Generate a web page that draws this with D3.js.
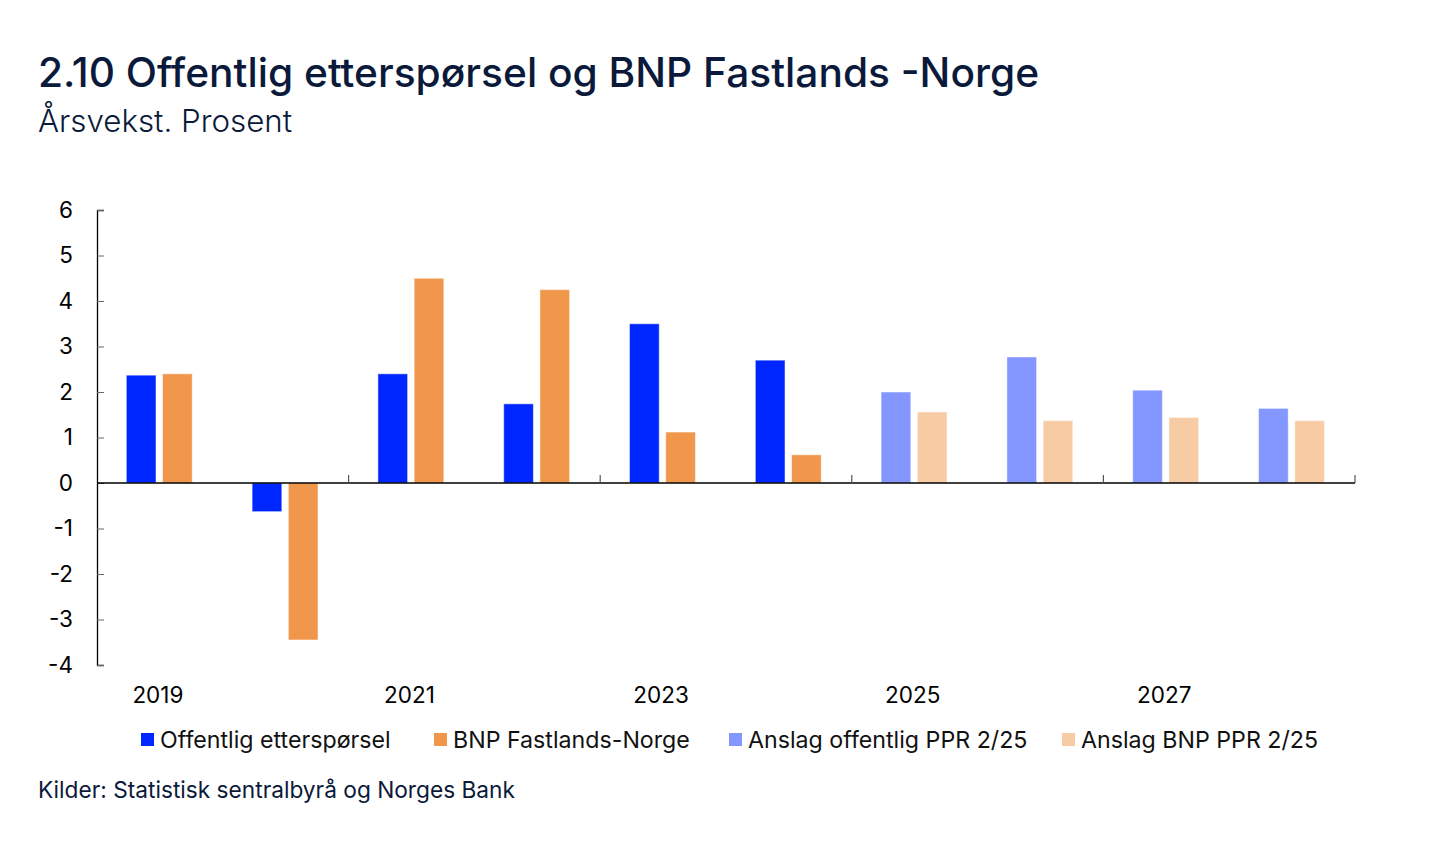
<!DOCTYPE html>
<html>
<head>
<meta charset="utf-8">
<script src="https://cdn.jsdelivr.net/npm/d3@7"></script>
<style>
  body { margin: 0; background: #fff; }
  text { font-family: Inter, "Noto Sans", sans-serif; }
</style>
</head>
<body>
<svg id="chart" width="1445" height="858"></svg>
<script>
// data
var years = ["2019", "2020", "2021", "2022", "2023", "2024", "2025", "2026", "2027", "2028"];
var offentlig = [2.37, -0.63, 2.4, 1.74, 3.5, 2.7, 2.0, 2.77, 2.04, 1.64];
var bnpFastland = [2.4, -3.45, 4.5, 4.25, 1.12, 0.62, 1.56, 1.37, 1.44, 1.37];
var firstForecast = "2025";
var yTicks = [-4, -3, -2, -1, 0, 1, 2, 3, 4, 5, 6];
var xLabels = ["2019", "2021", "2023", "2025", "2027"];
var legendNames = ["Offentlig etterspørsel", "BNP Fastlands-Norge", "Anslag offentlig PPR 2/25", "Anslag BNP PPR 2/25"];

var col = {
  blue: "#0026ff", orange: "#f0974b",
  lightBlue: "#8496ff", lightOrange: "#f7cba4",
  navy: "#0b1a3a"
};

var svg = d3.select("#chart");

svg.append("text").attr("x", 38).attr("y", 87)
  .attr("font-size", 40.7).attr("font-weight", 500).attr("fill", col.navy)
  .text("2.10 Offentlig etterspørsel og BNP Fastlands -Norge");
svg.append("text").attr("x", 38).attr("y", 132)
  .attr("font-size", 31.3).attr("font-weight", 300).attr("fill", col.navy)
  .text("Årsvekst. Prosent");

// plot box (don't call it "top", that's window.top)
var pL = 97, pR = 1355, pT = 210, pB = 665;

var x = d3.scaleBand().domain(years).range([pL, pR]);
var bw = x.bandwidth();
var x1 = d3.scaleBand().domain(["a", "b"]).range([bw * 0.233, bw * 0.757]).paddingInner(0.18);
var y = d3.scaleLinear().domain([-4, 6]).range([pB, pT]);

var rows = years.map(function(yr, i) {
  return { year: yr, a: offentlig[i], b: bnpFastland[i], fc: yr >= firstForecast };
});

function fillFor(d, k) {
  if (k == "a") return d.fc ? col.lightBlue : col.blue;
  return d.fc ? col.lightOrange : col.orange;
}

var g = svg.append("g");
["a", "b"].forEach(function(k) {
  g.selectAll(".bar-" + k).data(rows).enter().append("rect")
    .attr("x", function(d) { return x(d.year) + x1(k); })
    .attr("width", x1.bandwidth())
    .attr("y", function(d) { return y(Math.max(0, d[k])); })
    .attr("height", function(d) { return Math.abs(y(d[k]) - y(0)); })
    .attr("fill", function(d) { return fillFor(d, k); })
    .attr("stroke", "#fff").attr("stroke-opacity", 0.5).attr("stroke-width", 1);
});

// y axis, ticks pointing inwards
var yAxis = svg.append("g").attr("transform", "translate(" + pL + ",0)")
  .call(d3.axisLeft(y).tickValues(yTicks).tickSize(-7).tickPadding(24).tickFormat(d3.format("d")));
yAxis.select(".domain").attr("stroke", "#000").attr("stroke-width", 1.3);
yAxis.selectAll(".tick line").attr("stroke", "#666");
yAxis.selectAll("text").attr("font-size", 22.5).attr("fill", "#000")
  .attr("font-family", "Inter, sans-serif").text(function(d) { return d; });

// zero line + boundary ticks every second year
var zero = svg.append("g").attr("transform", "translate(0," + y(0) + ")");
zero.append("line").attr("x1", pL).attr("x2", pR).attr("stroke", "#000").attr("stroke-width", 1.5);
var bounds = ["2021", "2023", "2025", "2027"].map(function(yr) { return x(yr); }).concat([pR]);
zero.selectAll(".bt").data(bounds).enter().append("line")
  .attr("x1", function(d) { return d; }).attr("x2", function(d) { return d; })
  .attr("y1", -8).attr("y2", 0).attr("stroke", "#555").attr("stroke-width", 1.2);

// year labels below the plot
var xAxis = svg.append("g").attr("transform", "translate(0," + pB + ")")
  .call(d3.axisBottom(x).tickValues(xLabels).tickSize(0).tickPadding(22));
xAxis.select(".domain").remove();
xAxis.selectAll("text").attr("font-size", 22.5).attr("fill", "#000").attr("font-family", "Inter, sans-serif")
  .attr("dx", -2);

// legend
var legendX = [141, 434, 729, 1062];
var legendCols = [col.blue, col.orange, col.lightBlue, col.lightOrange];
var lg = svg.append("g");
legendNames.forEach(function(name, i) {
  lg.append("rect").attr("x", legendX[i]).attr("y", 733).attr("width", 13).attr("height", 13)
    .attr("fill", legendCols[i]);
  lg.append("text").attr("x", legendX[i] + 19).attr("y", 748)
    .attr("font-size", 23.2).attr("fill", "#111").text(name);
});

svg.append("text").attr("x", 38).attr("y", 798)
  .attr("font-size", 22.7).attr("fill", col.navy)
  .text("Kilder: Statistisk sentralbyrå og Norges Bank");
</script>
</body>
</html>
